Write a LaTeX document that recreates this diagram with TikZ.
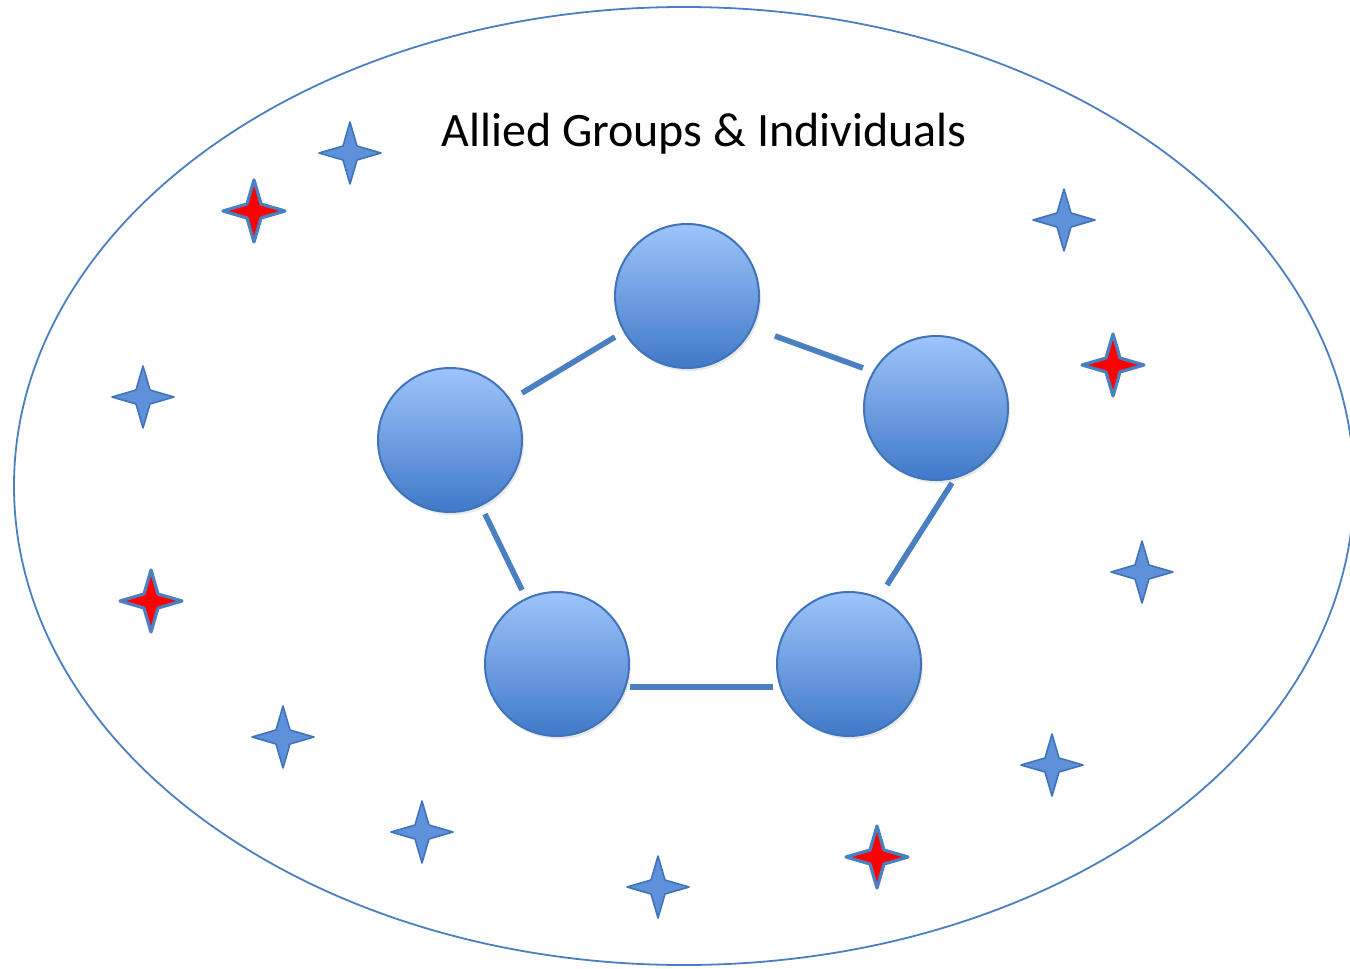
\documentclass[tikz,border=0pt]{standalone}
\usepackage{fontspec}
\setmainfont{Carlito}
\usetikzlibrary{shapes.geometric,shadows}
\definecolor{edgeblue}{HTML}{4A7FC1}
\definecolor{rimblue}{HTML}{3F74BB}
\definecolor{topblue}{HTML}{9EC4FA}
\definecolor{botblue}{HTML}{4079C9}
\definecolor{starblue}{HTML}{5E91D9}
\tikzset{
  groupnode/.style={circle, draw=rimblue, line width=1pt, minimum size=72pt, inner sep=0pt,
    top color=topblue, bottom color=botblue,
    drop shadow={opacity=0.18, shadow xshift=1pt, shadow yshift=-1.5pt}},
  link/.style={draw=edgeblue, line width=2.8pt},
  fourstar/.pic={\path[pic actions] (0,-31) -- (7,-7) -- (31,0) -- (7,7) -- (0,31) -- (-7,7) -- (-31,0) -- (-7,-7) -- cycle;},
  bluestar/.style={draw=rimblue, line width=0.8pt, fill=starblue, line join=round},
  redstar/.style={draw=edgeblue, line width=1.6pt, fill=red, line join=round},
}
\begin{document}
\begin{tikzpicture}[x=0.5pt,y=-0.5pt]
\useasboundingbox (0,0) rectangle (1350,969);
% outer ellipse
\node[ellipse, draw=edgeblue, line width=0.9pt, minimum width=670pt, minimum height=479pt, inner sep=0pt] (world) at (684,486) {};
% title
\node (title) at (704,134) {\fontsize{24}{29}\selectfont Allied Groups \& Individuals};
% core groups
\node[groupnode] (top) at (687,296) {};
\node[groupnode] (left) at (450,440) {};
\node[groupnode] (right) at (936,408) {};
\node[groupnode] (bl) at (557,664) {};
\node[groupnode] (br) at (849,664) {};
% links
\draw[link] ([shift={(-72,41)}]top.center) -- ([shift={(72,-47)}]left.center);
\draw[link] ([shift={(88,40)}]top.center) -- ([shift={(-73,-40)}]right.center);
\draw[link] ([shift={(16,75)}]right.center) -- ([shift={(38,-79)}]br.center);
\draw[link] ([shift={(73,23)}]bl.center) -- ([shift={(-76,23)}]br.center);
\draw[link] ([shift={(35,74)}]left.center) -- ([shift={(-35,-74)}]bl.center);
% stars
\pic[bluestar] (s1) at (350,153) {fourstar};
\pic[bluestar] (s2) at (1064,220) {fourstar};
\pic[bluestar] (s3) at (143,397) {fourstar};
\pic[bluestar] (s4) at (1142,572) {fourstar};
\pic[bluestar] (s5) at (283,737) {fourstar};
\pic[bluestar] (s6) at (422,832) {fourstar};
\pic[bluestar] (s7) at (658,887) {fourstar};
\pic[bluestar] (s8) at (1052,765) {fourstar};
\pic[redstar] (r1) at (254,211) {fourstar};
\pic[redstar] (r2) at (1113,365) {fourstar};
\pic[redstar] (r3) at (151,601) {fourstar};
\pic[redstar] (r4) at (877,857) {fourstar};
\end{tikzpicture}
\end{document}
